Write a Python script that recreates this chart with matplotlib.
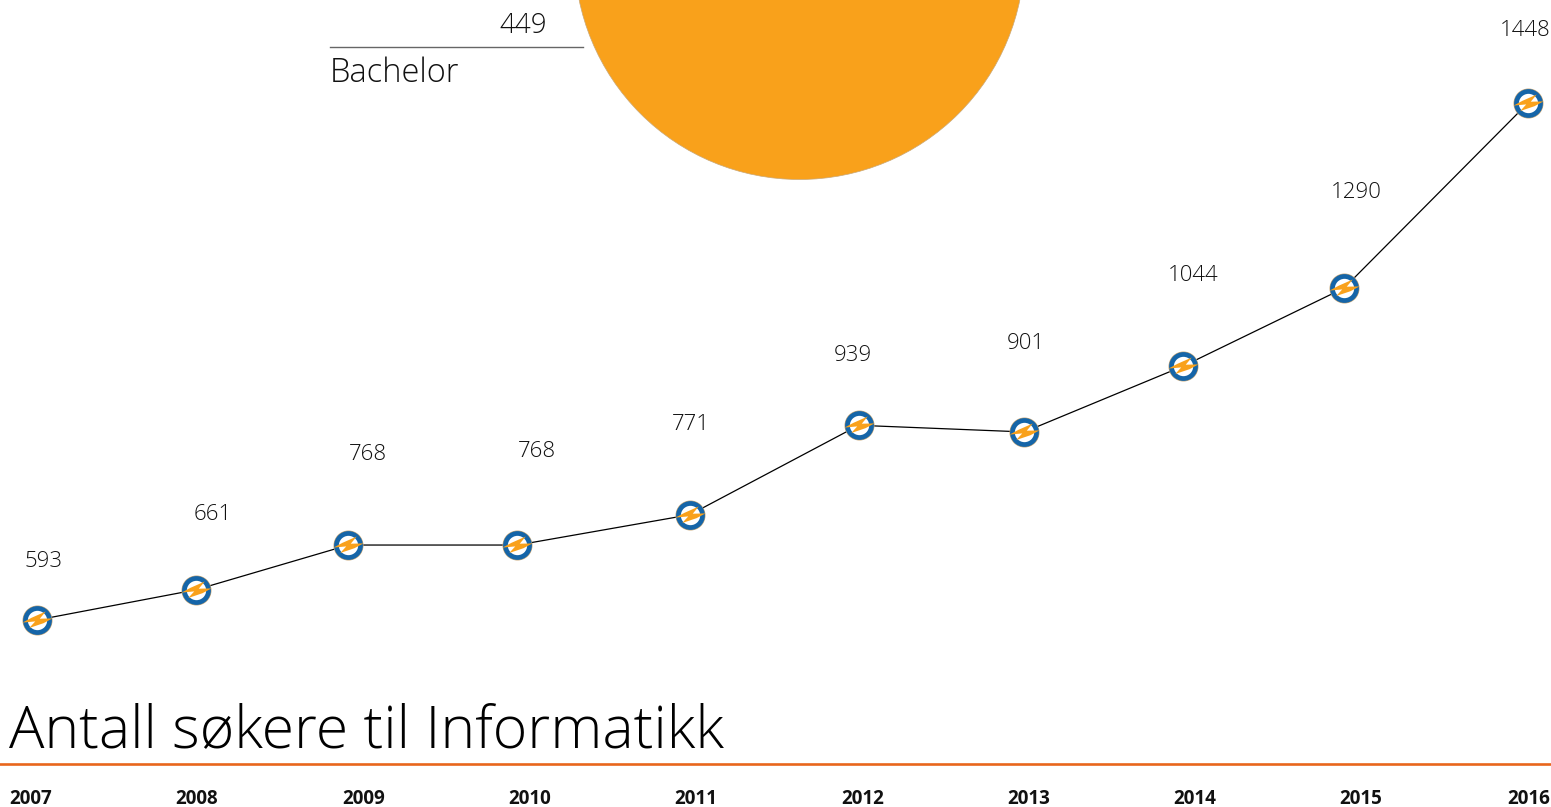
import matplotlib
matplotlib.use('Agg')
import matplotlib.pyplot as plt
from matplotlib.path import Path

plt.rcParams['font.family'] = ['Open Sans', 'DejaVu Sans']

# tallene som står på figuren
labels = ['593', '661', '768', '768', '771', '939', '901', '1044', '1290', '1448']
# plassering av punktene (figuren er ikke helt lineær)
point_years = [2007.00, 2007.96, 2008.88, 2009.90, 2010.94,
               2011.96, 2012.96, 2013.92, 2014.89, 2016.00]
point_levels = [593, 643, 717, 717, 767, 915, 904, 1013, 1142, 1448]
year_labels = ['2007', '2008', '2009', '2010', '2011',
               '2012', '2013', '2014', '2015', '2016']

bachelor_label = 'Bachelor'
bachelor_value = '449'
title = 'Antall søkere til Informatikk'

# forskyvning av tallene i forhold til punktene (pt)
label_dx = [5, 12, 14, 14, 1, -4, 1, 7, 9, -2]
label_dy = [42, 54, 65, 67, 65, 50, 64, 65, 69, 52]

W, H = 1551, 807
fig = plt.figure(figsize=(W / 100, H / 100), dpi=100, facecolor='white')
ax = fig.add_axes([0, 0, 1, 1])
ax.set_xlim(2006.7767, 2016.1388)
ax.set_ylim(283.8, 1618.3)
ax.axis('off')

# stor oransje sirkel øverst, delvis utenfor bildet
ax.scatter([2011.60], [1694.4], s=324 ** 2, color='#f9a11b',
           edgecolor='#c9a878', linewidth=0.5, zorder=1)

ax.plot(point_years, point_levels, color='black', linewidth=0.9, zorder=2)

# logo-punkt: hvit sirkel med blå ring og oransje lyn
bolt = Path([(-1.0, -0.14), (-0.4, 0.18), (0.55, 0.6), (0.15, 0.12), (1.0, 0.14),
             (0.4, -0.18), (-0.55, -0.5), (-0.15, -0.06), (-1.0, -0.14)], closed=True)
ax.scatter(point_years, point_levels, s=466, color='#c9a878', linewidth=0, zorder=3)
ax.scatter(point_years, point_levels, s=300, color='white', edgecolor='#1565a8',
           linewidth=3.4, zorder=4)
ax.scatter(point_years, point_levels, s=466, marker=bolt, color='#f9a11b',
           linewidth=0, zorder=5)

for x, y, t, dx, dy in zip(point_years, point_levels, labels, label_dx, label_dy):
    ax.annotate(t, (x, y), xytext=(dx, dy), textcoords='offset points', ha='center',
                va='center', fontsize=16, fontweight='light', color='#111111')

# Bachelor-etikett
ax.plot([0.2129, 0.3759], [0.9418, 0.9418], transform=ax.transAxes, color='#666666', linewidth=1)
ax.text(0.3525, 0.9591, bachelor_value, transform=ax.transAxes, ha='right', va='baseline',
        fontsize=20, fontweight='light', color='#111111')
ax.text(0.2129, 0.8984, bachelor_label, transform=ax.transAxes, ha='left', va='baseline',
        fontsize=23.5, fontweight='light', color='#111111')

# tittel, strek og årstall
ax.text(0.0058, 0.0743, title, transform=ax.transAxes, ha='left', va='baseline',
        fontsize=42.5, fontweight='light', color='#000000')
ax.plot([0, 1], [0.0533, 0.0533], transform=ax.transAxes, color='#e8661c', linewidth=1.9)

year_x = [0.0058, 0.1128, 0.2204, 0.3275, 0.4345, 0.5422, 0.6492, 0.7562, 0.8633]
for xf, t in zip(year_x, year_labels[:-1]):
    ax.text(xf, 0.0037, t, transform=ax.transAxes, ha='left', va='baseline',
            fontsize=13.5, fontweight='bold', color='#111111')
ax.text(0.9995, 0.0037, year_labels[-1], transform=ax.transAxes, ha='right', va='baseline',
        fontsize=13.5, fontweight='bold', color='#111111')

fig.savefig('out.png', dpi=100)
